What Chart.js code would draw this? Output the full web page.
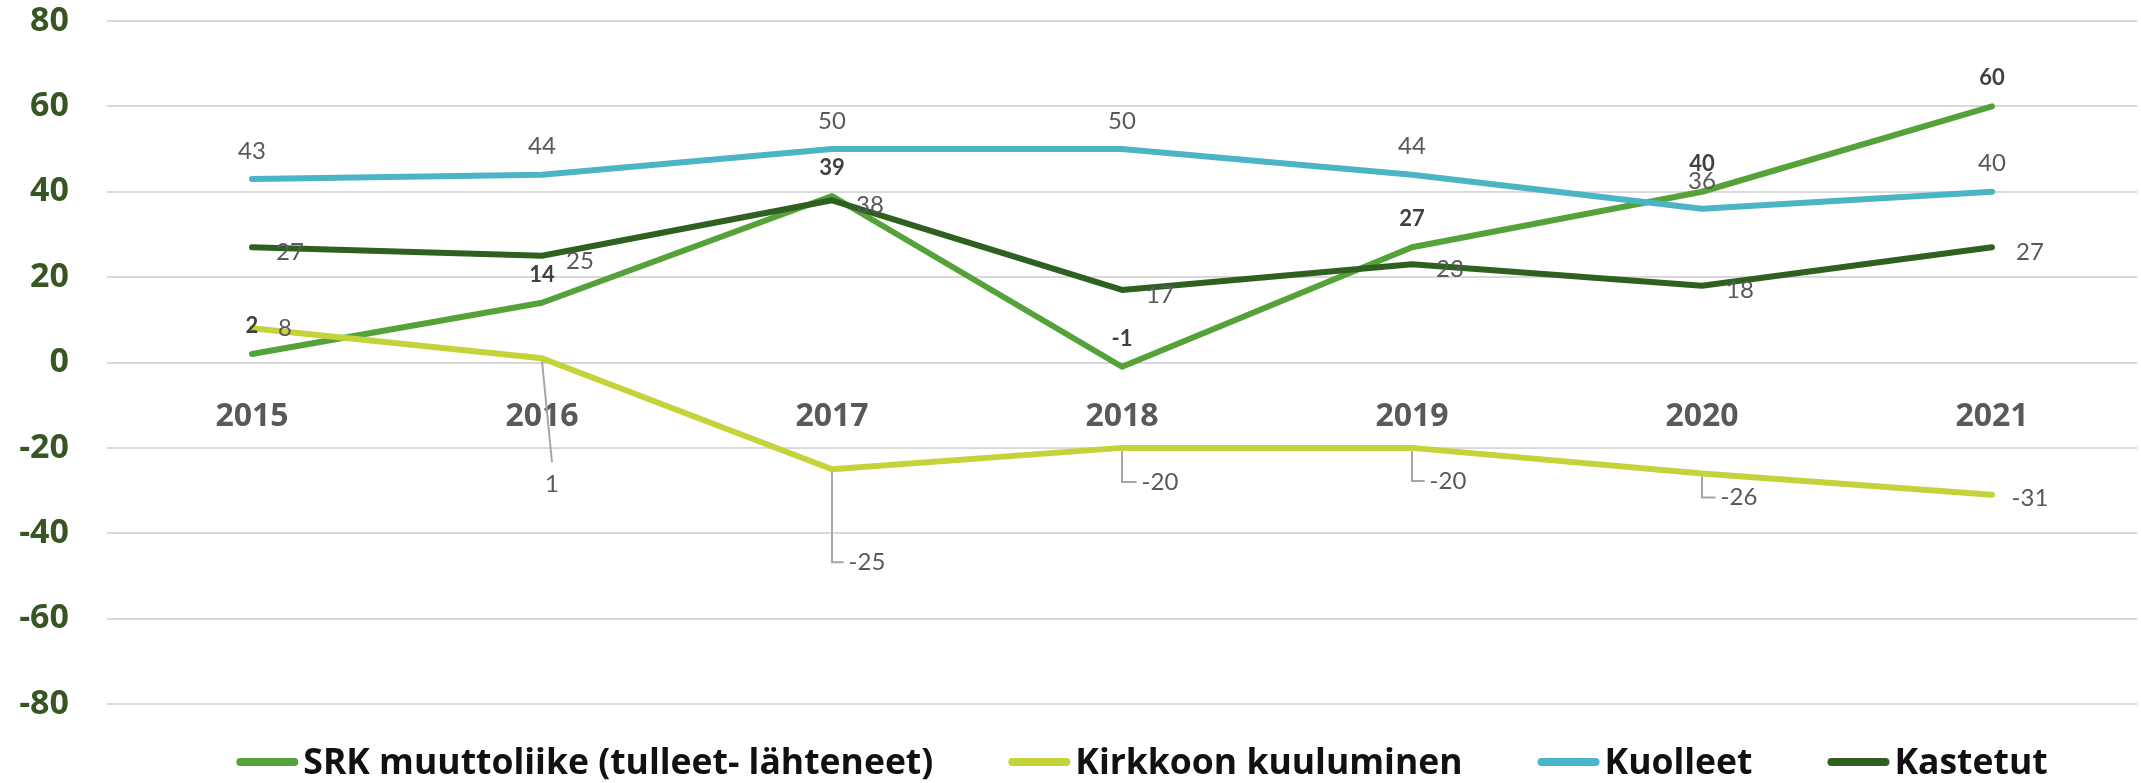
<!DOCTYPE html>
<html>
<head>
<meta charset="utf-8">
<script src="https://cdn.jsdelivr.net/npm/chart.js@4.4.1/dist/chart.umd.min.js"></script>
<style>
  html, body { margin: 0; padding: 0; background: #fff; }
  #wrap { width: 2141px; height: 783px; }
</style>
</head>
<body>
<div id="wrap"><canvas id="myChart" width="2141" height="783"></canvas></div>
<script>
// data
let years = ['2015', '2016', '2017', '2018', '2019', '2020', '2021'];
let srk = [2, 14, 39, -1, 27, 40, 60];
let kirkko = [8, 1, -25, -20, -20, -26, -31];
let kuolleet = [43, 44, 50, 50, 44, 36, 40];
let kastetut = [27, 25, 38, 17, 23, 18, 27];
let names = ['SRK muuttoliike (tulleet- lähteneet)', 'Kirkkoon kuuluminen', 'Kuolleet', 'Kastetut'];
let yMin = -80, yMax = 80, yStep = 20;

let colors = ['#55a23a', '#c5d33a', '#4bb5c6', '#2e6120'];

// label placement (px from the point), one per series, kirkko per point
let labelPos = [
    [[0, -28]],
    [[33, 0], [10, 126], [35, 93], [38, 34], [36, 33], [37, 24], [38, 3]],
    [[0, -28]],
    [[38, 5]]
];

let dataLabels = {
    id: 'dataLabels',
    afterDatasetsDraw(chart) {
        let ctx = chart.ctx;
        ctx.save();
        ctx.textAlign = 'center';
        ctx.textBaseline = 'middle';
        chart.data.datasets.forEach((ds, i) => {
            let meta = chart.getDatasetMeta(i);
            meta.data.forEach((pt, j) => {
                let off = labelPos[i][j] || labelPos[i][0];
                let lx = pt.x + off[0], ly = pt.y + off[1];
                let txt = String(ds.data[j]);
                if (i == 0) {
                    ctx.font = 'bold 22px Lato';
                    ctx.fillStyle = '#404040';
                } else {
                    ctx.font = '24px Lato';
                    ctx.fillStyle = '#595959';
                }
                let w = ctx.measureText(txt).width;
                if (off[1] > 20) {
                    ctx.strokeStyle = '#a6a6a6';
                    ctx.lineWidth = 2;
                    ctx.beginPath();
                    if (lx - w / 2 - pt.x > 10) {
                        ctx.moveTo(pt.x, pt.y + 3);
                        ctx.lineTo(pt.x, ly);
                        ctx.lineTo(lx - w / 2 - 5, ly);
                    } else {
                        ctx.moveTo(pt.x, pt.y + 3);
                        ctx.lineTo(lx, ly - 22);
                    }
                    ctx.stroke();
                }
                ctx.fillText(txt, lx, ly);
            });
        });
        ctx.restore();
    }
};

let lineLegend = {
    id: 'lineLegend',
    afterDraw(chart) {
        let ctx = chart.ctx;
        let area = chart.chartArea;
        ctx.save();
        ctx.font = 'bold 35.5px "Open Sans"';
        ctx.textBaseline = 'alphabetic';
        ctx.textAlign = 'left';
        let mark = 62, gapIn = 5, gapOut = 75;
        let widths = names.map(n => ctx.measureText(n).width);
        let total = widths.reduce((a, b) => a + b, 0) + names.length * (mark + gapIn) + (names.length - 1) * gapOut;
        let x = (area.left + area.right) / 2 + 20 - total / 2;
        let y = area.bottom + 58;
        names.forEach((n, i) => {
            ctx.strokeStyle = colors[i];
            ctx.lineWidth = 8;
            ctx.lineCap = 'round';
            ctx.beginPath();
            ctx.moveTo(x + 4, y);
            ctx.lineTo(x + mark - 4, y);
            ctx.stroke();
            ctx.fillStyle = '#111';
            ctx.fillText(n, x + mark + gapIn, y + 12);
            x += mark + gapIn + widths[i] + gapOut;
        });
        ctx.restore();
    }
};

let series = [srk, kirkko, kuolleet, kastetut];

let ctx = document.getElementById('myChart').getContext('2d');
let myChart = new Chart(ctx, {
    type: 'line',
    data: {
        labels: years,
        datasets: series.map((s, i) => ({
            label: names[i],
            data: s,
            borderColor: colors[i],
            backgroundColor: colors[i],
            borderWidth: 6,
            borderCapStyle: 'round',
            borderJoinStyle: 'round',
            pointRadius: 0,
            tension: 0,
            order: 4 - i
        }))
    },
    options: {
        responsive: false,
        animation: false,
        layout: { padding: { top: 21, bottom: 79, left: 0, right: 4 } },
        plugins: {
            legend: { display: false },
            tooltip: { enabled: false }
        },
        scales: {
            x: {
                type: 'category',
                offset: true,
                position: { y: 0 },
                grid: { display: false, drawTicks: false },
                border: { display: false },
                ticks: {
                    padding: 35,
                    color: '#595959',
                    font: { family: 'Open Sans', size: 32, weight: 'bold' },
                    maxRotation: 0,
                    autoSkip: false
                }
            },
            y: {
                min: yMin,
                max: yMax,
                grid: { color: '#d9d9d9', lineWidth: 2, drawTicks: false },
                border: { display: false },
                ticks: {
                    stepSize: yStep,
                    padding: 38,
                    color: '#375623',
                    font: { family: 'Open Sans', size: 34, weight: 'bold' }
                },
                afterFit: function (scale) {
                    scale.width = 107;
                    scale.paddingTop = 0;
                    scale.paddingBottom = 0;
                }
            }
        }
    },
    plugins: [dataLabels, lineLegend]
});
</script>
</body>
</html>
